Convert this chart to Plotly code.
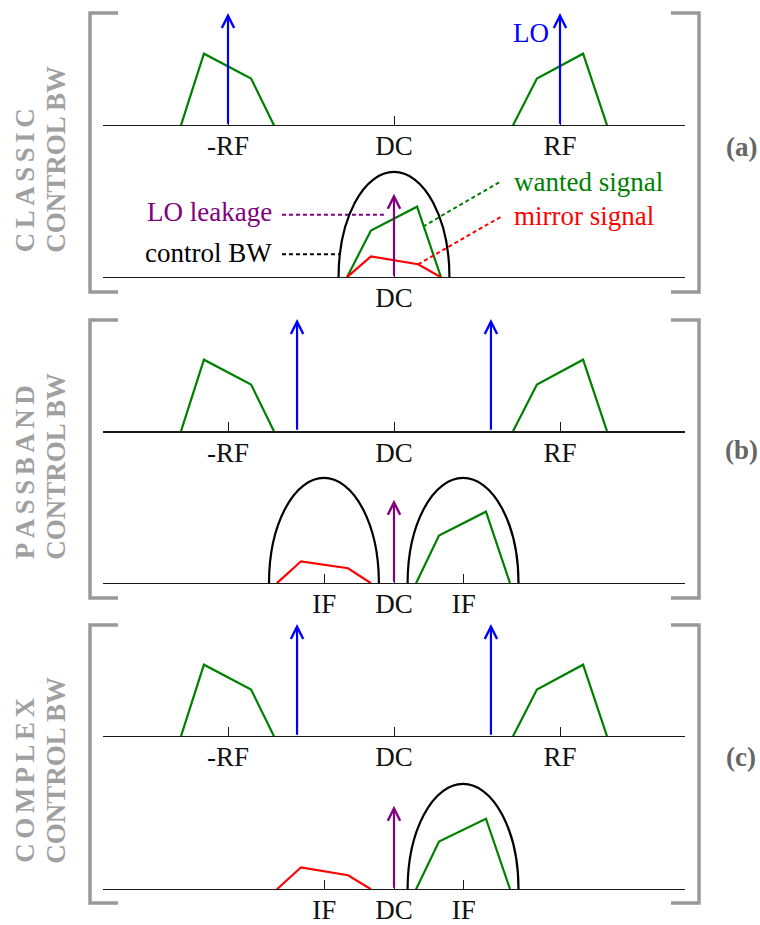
import plotly.graph_objects as go

W, H = 760, 925

# ---------------- data: frequency in units of RF, amplitude in units of the LO tone ----------
rf_ticks = [-1.0, 0.0, 1.0]
rf_labels = ["-RF", "DC", "RF"]
if_ticks = [-0.42, 0.0, 0.42]
if_labels = ["IF", "DC", "IF"]
dc_ticks = [0.0]
dc_labels = ["DC"]

# RF spectra (identical in the three panels)
rf_neg_f = [-1.283, -1.145, -0.861, -0.723]
rf_neg_a = [0.0, 0.637, 0.416, 0.0]
rf_pos_f = [0.717, 0.861, 1.139, 1.283]
rf_pos_a = [0.0, 0.416, 0.637, 0.0]

# LO tones
lo_a = [-1.0, 1.0]
lo_bc = [-0.584, 0.584]
lo_amp = 1.0

# (a) baseband
a_want_f = [-0.283, -0.139, 0.139, 0.283]
a_want_a = [0.0, 0.416, 0.628, 0.0]
a_mirr_f = [-0.283, -0.139, 0.145, 0.283]
a_mirr_a = [0.0, 0.186, 0.115, 0.0]

# (b) / (c) baseband
bc_want_f = [0.133, 0.271, 0.554, 0.699]
b_want_a = [0.0, 0.425, 0.637, 0.0]
c_want_a = [0.0, 0.425, 0.628, 0.0]
bc_mirr_f = [-0.705, -0.560, -0.277, -0.139]
b_mirr_a = [0.0, 0.195, 0.133, 0.0]
c_mirr_a = [0.0, 0.195, 0.124, 0.0]

# LO leakage at DC
leak_f = 0.0
leak_amp = 0.743

# control bandwidths: centre, half width, height
bw_a_c, bw_a_w, bw_a_h = [0.0], [0.334], [0.938]
bw_b_c, bw_b_w, bw_b_h = [-0.422, 0.416], [0.331, 0.334], [0.938, 0.938]
bw_c_c, bw_c_w, bw_c_h = [0.416], [0.334], [0.938]

# leader lines of panel (a)
lead_leak_f, lead_leak_a = [-0.675, -0.042], [0.557, 0.557]
lead_bw_f, lead_bw_a = [-0.675, -0.33], [0.204, 0.204]
lead_want_f, lead_want_a = [0.175, 0.639], [0.451, 0.85]
lead_mirr_f, lead_mirr_a = [0.145, 0.657], [0.115, 0.549]

# side titles
side_titles = ["CLASSIC", "PASSBAND", "COMPLEX"]
side_sub = "CONTROL BW"
panel_letters = ["(a)", "(b)", "(c)"]

# ---------------- styling -------------------------------------------------------------------
FONT = "Liberation Serif"
FS = 27
GREEN = "#008000"
RED = "#ff0000"
BLUE = "#0000ff"
PURPLE = "#800080"
GRAY = "#a0a0a0"

axis_px = [126, 279, 434, 587, 741, 895]
tickset = [(rf_ticks, rf_labels), (dc_ticks, dc_labels),
           (rf_ticks, rf_labels), (if_ticks, if_labels),
           (rf_ticks, rf_labels), (if_ticks, if_labels)]
line_w = [1.2, 1.2, 2.2, 1.2, 1.2, 1.2]
PX_PER_AMP = 113.0
YMAX = 1.1
XR = 1.753

fig = go.Figure()
layout = dict(width=W, height=H, margin=dict(l=0, r=0, t=0, b=0),
              paper_bgcolor="white", plot_bgcolor="rgba(0,0,0,0)", showlegend=False)

for i in range(6):
    k = "" if i == 0 else str(i + 1)
    y0 = 1 - axis_px[i] / H
    y1 = y0 + YMAX * PX_PER_AMP / H
    tv, tt = tickset[i]
    layout["xaxis" + k] = dict(domain=[103 / W, 685 / W], range=[-XR, XR], anchor="y" + k,
                               showline=True, linecolor="#1a1a1a", linewidth=line_w[i],
                               ticks="inside", ticklen=9, tickwidth=1, tickcolor="#1a1a1a",
                               tickvals=tv, ticktext=tt, showgrid=False, zeroline=False,
                               tickfont=dict(family=FONT, size=FS, color="#111111"),
                               ticklabelstandoff=-4, fixedrange=True)
    layout["yaxis" + k] = dict(domain=[y0, y1], range=[0, YMAX], anchor="x" + k,
                               visible=False, fixedrange=True)


def ax(i):
    k = "" if i == 0 else str(i + 1)
    return "x" + k, "y" + k


def line(i, f, a, color, width=2.2, dash=None):
    xa, ya = ax(i)
    fig.add_trace(go.Scatter(x=f, y=a, mode="lines", xaxis=xa, yaxis=ya,
                             line=dict(color=color, width=width, dash=dash),
                             hoverinfo="skip"))


annotations = []
shapes = []


def arrow(i, f, amp, color):
    xa, ya = ax(i)
    annotations.append(dict(x=f, y=amp, ax=f, ay=0, xref=xa, yref=ya, axref=xa, ayref=ya,
                            text="", showarrow=True, arrowhead=5, arrowsize=1.1,
                            arrowwidth=2.2, arrowcolor=color, standoff=0))


def ellipse(i, c, w, h):
    xa, ya = ax(i)
    shapes.append(dict(type="circle", xref=xa, yref=ya, x0=c - w, x1=c + w, y0=-h, y1=h,
                       line=dict(color="black", width=2.2), layer="above"))


def label(i, f, a, text, color, xanchor):
    xa, ya = ax(i)
    annotations.append(dict(x=f, y=a, xref=xa, yref=ya, text=text, showarrow=False,
                            xanchor=xanchor, yanchor="middle",
                            font=dict(family=FONT, size=FS, color=color)))


# RF rows
for i, los in [(0, lo_a), (2, lo_bc), (4, lo_bc)]:
    line(i, rf_neg_f, rf_neg_a, GREEN)
    line(i, rf_pos_f, rf_pos_a, GREEN)
    for f in los:
        arrow(i, f, lo_amp, BLUE)

# baseband rows
line(1, a_want_f, a_want_a, GREEN)
line(1, a_mirr_f, a_mirr_a, RED)
line(3, bc_want_f, b_want_a, GREEN)
line(3, bc_mirr_f, b_mirr_a, RED)
line(5, bc_want_f, c_want_a, GREEN)
line(5, bc_mirr_f, c_mirr_a, RED)
for i in (1, 3, 5):
    arrow(i, leak_f, leak_amp, PURPLE)
for c, w, h in zip(bw_a_c, bw_a_w, bw_a_h):
    ellipse(1, c, w, h)
for c, w, h in zip(bw_b_c, bw_b_w, bw_b_h):
    ellipse(3, c, w, h)
for c, w, h in zip(bw_c_c, bw_c_w, bw_c_h):
    ellipse(5, c, w, h)

# leader lines and labels of panel (a)
line(1, lead_leak_f, lead_leak_a, PURPLE, 2, "4px,3px")
line(1, lead_bw_f, lead_bw_a, "black", 2, "4px,3px")
line(1, lead_want_f, lead_want_a, GREEN, 2, "4px,3px")
line(1, lead_mirr_f, lead_mirr_a, RED, 2, "4px,3px")
label(1, -0.725, 0.584, "LO leakage", PURPLE, "right")
label(1, -0.725, 0.212, "control BW", "black", "right")
label(1, 0.71, 0.85, "wanted signal", GREEN, "left")
label(1, 0.71, 0.549, "mirror signal", RED, "left")
label(0, 0.945, 0.823, "LO", BLUE, "right")

# brackets, side titles and panel letters
brackets = [(13, 294), (322, 602), (629, 909)]
title_base_px = [256, 565, 871]
letter_px = [148, 453, 762]
SEP = "\u2006"
for (top, bot), t1, base, let, ly in zip(brackets, side_titles, title_base_px,
                                          panel_letters, letter_px):
    yt, yb = 1 - top / H, 1 - bot / H
    shapes.append(dict(type="path", xref="paper", yref="paper",
                       path=f"M{118/W},{yt} L{90/W},{yt} L{90/W},{yb} L{118/W},{yb}",
                       line=dict(color="#999999", width=3.5)))
    shapes.append(dict(type="path", xref="paper", yref="paper",
                       path=f"M{671/W},{yt} L{699/W},{yt} L{699/W},{yb} L{671/W},{yb}",
                       line=dict(color="#999999", width=3.5)))
    annotations.append(dict(x=25 / W, y=1 - base / H, xref="paper", yref="paper",
                            text="<b>" + SEP.join(t1) + "</b>", textangle=-90,
                            showarrow=False, xanchor="center", yanchor="bottom",
                            font=dict(family=FONT, size=27, color=GRAY)))
    annotations.append(dict(x=56 / W, y=1 - base / H, xref="paper", yref="paper",
                            text="<b>" + side_sub + "</b>", textangle=-90, showarrow=False,
                            xanchor="center", yanchor="bottom",
                            font=dict(family=FONT, size=27, color=GRAY)))
    annotations.append(dict(x=741 / W, y=1 - ly / H, xref="paper", yref="paper",
                            text="<b>" + let + "</b>", showarrow=False,
                            xanchor="center", yanchor="middle",
                            font=dict(family=FONT, size=FS, color="#666666")))

layout["annotations"] = annotations
layout["shapes"] = shapes
fig.update_layout(**layout)

fig.write_html("out.html", config={"displayModeBar": False},
               post_script="document.body.style.margin='0';document.body.style.overflow='hidden';")
